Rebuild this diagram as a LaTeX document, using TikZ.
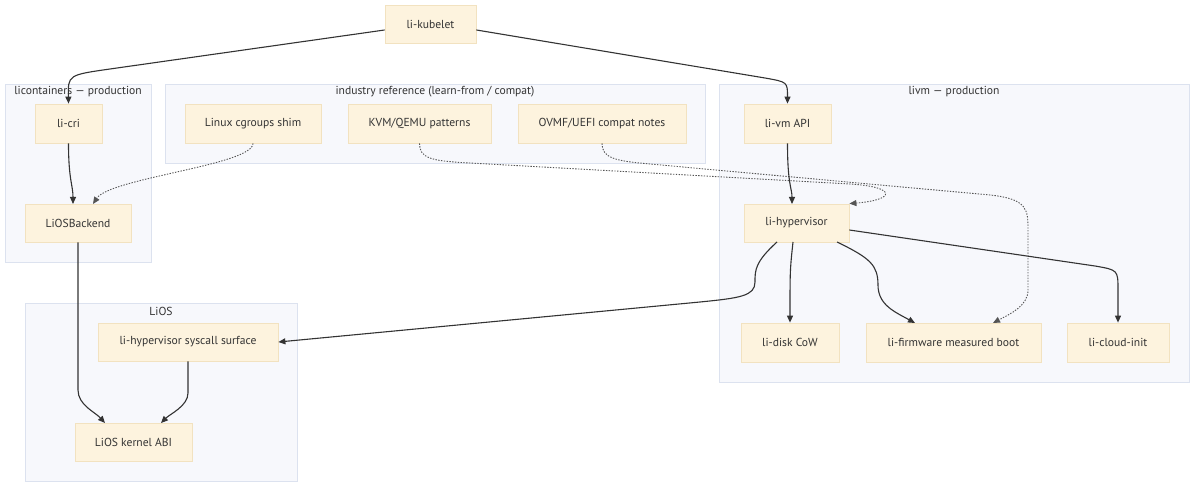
\documentclass[tikz,border=0pt]{standalone}
\usepackage{fontspec}
\setmainfont{PT Sans}
\usetikzlibrary{arrows.meta}
\definecolor{nodefill}{HTML}{FDF3DE}
\definecolor{nodeline}{HTML}{F2E2C0}
\definecolor{clfill}{HTML}{F7F8FC}
\definecolor{clline}{HTML}{DCE2EF}
\definecolor{edgec}{HTML}{333333}
\definecolor{dotedge}{HTML}{555555}
\definecolor{txt}{HTML}{333333}
\tikzset{
 box/.style={draw=nodeline, fill=nodefill, line width=0.8pt, inner sep=0pt, font=\fontsize{11.6}{14}\selectfont, text=txt},
 cluster/.style={draw=clline, fill=clfill, line width=0.8pt},
 ctitle/.style={font=\fontsize{11.6}{14}\selectfont, text=txt, inner sep=0pt},
 link/.style={draw=edgec, line width=1.1pt, -{Triangle[length=7pt,width=6pt]}},
 dlink/.style={draw=dotedge, line width=0.9pt, dash pattern=on 1.4pt off 1.4pt, -{Triangle[length=7pt,width=6pt]}},
}
\begin{document}
\begin{tikzpicture}[x=1pt,y=-1pt]
\useasboundingbox (0,0) rectangle (1200,489);
% clusters
\path[cluster] (5,84) rectangle (151,262);
\path[cluster] (165,84) rectangle (705,163);
\path[cluster] (719,84) rectangle (1189,382);
\path[cluster] (25,303) rectangle (297,481);
\node[ctitle] (tA) at (78,92) {licontainers — production};
\node[ctitle] (tB) at (435,92) {industry reference (learn-from / compat)};
\node[ctitle] (tC) at (954,92) {livm — production};
\node[ctitle] (tD) at (161,311) {LiOS};
% nodes
\node[box, minimum width=91pt, minimum height=38pt] (kubelet) at (430.5,24) {li-kubelet};
\node[box, minimum width=67pt, minimum height=39pt] (licri) at (68.5,123.5) {li-cri};
\node[box, minimum width=106pt, minimum height=38pt] (backend) at (78,223) {LiOSBackend};
\node[box, minimum width=136pt, minimum height=39pt] (cgroups) at (253,123.5) {Linux cgroups shim};
\node[box, minimum width=143pt, minimum height=39pt] (kvm) at (419.5,123.5) {KVM/QEMU patterns};
\node[box, minimum width=168pt, minimum height=39pt] (ovmf) at (602,123.5) {OVMF/UEFI compat notes};
\node[box, minimum width=87pt, minimum height=39pt] (vmapi) at (787.5,123.5) {li-vm API};
\node[box, minimum width=105pt, minimum height=38pt] (hyper) at (796.5,223) {li-hypervisor};
\node[box, minimum width=98pt, minimum height=39pt] (disk) at (790,342.5) {li-disk CoW};
\node[box, minimum width=175pt, minimum height=39pt] (firmware) at (953.5,342.5) {li-firmware measured boot};
\node[box, minimum width=102pt, minimum height=39pt] (cloud) at (1118,342.5) {li-cloud-init};
\node[box, minimum width=180pt, minimum height=38pt] (syscall) at (188,342) {li-hypervisor syscall surface};
\node[box, minimum width=117pt, minimum height=38pt] (abi) at (133.5,442) {LiOS kernel ABI};
% edges
\draw[link] (kubelet.west |- 0,30) -- (110,69) .. controls (68,75) .. (licri.north);
\draw[link] (kubelet.east |- 0,30) -- (765,78) .. controls (787.5,82) .. (vmapi.north);
\draw[link] (licri.south) .. controls (68.5,180) and (73,185) .. (73,204);
\draw[dlink] (cgroups.south) .. controls (253,165) and (110,178) .. (93,204);
\draw[dlink] (kvm.south) .. controls (419.5,158) and (430,161) .. (470,163) -- (850,184) .. controls (898,187) and (895,200) .. (hyper.north east);
\draw[dlink] (ovmf.south) .. controls (602,158) and (615,161) .. (650,164) -- (990,195) .. controls (1028,199) and (1028,210) .. (1028,230) -- (1028,290) .. controls (1028,306) and (1010,314) .. (993,323);
\draw[link] (vmapi.south) .. controls (787.5,185) and (792,188) .. (792,204);
\draw[link] (777,242) .. controls (755,262) and (755,270) .. (755,282) .. controls (755,296) and (740,298) .. (700,302) -- (syscall.east);
\draw[link] (793,242) .. controls (790,270) .. (disk.north);
\draw[link] (837,242) .. controls (870,258) and (878,265) .. (878,285) .. controls (878,305) and (895,312) .. (915,323);
\draw[link] (hyper.east |- 0,230) -- (1095,266) .. controls (1118,270) .. (1118,290) -- (cloud.north);
\draw[link] (backend.south) -- (78,390) .. controls (78,405) and (95,412) .. (105,423);
\draw[link] (syscall.south) -- (188,393) .. controls (188,406) and (170,414) .. (161,423);
\end{tikzpicture}
\end{document}
